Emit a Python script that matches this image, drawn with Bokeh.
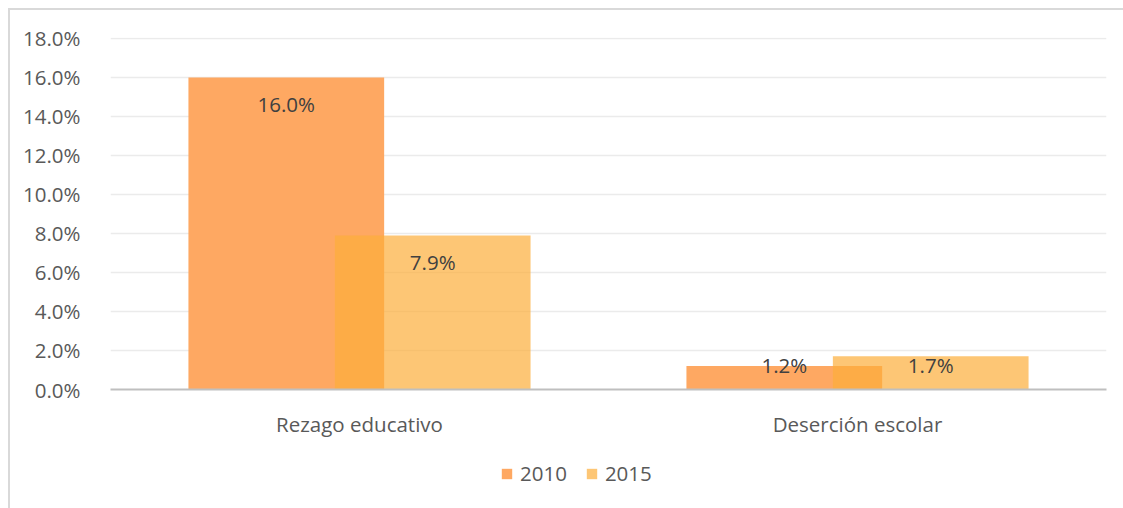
from bokeh.plotting import figure
from bokeh.layouts import column
from bokeh.models import (FactorRange, ColumnDataSource, FixedTicker,
                          PrintfTickFormatter, Legend, LegendItem, Range1d)
from bokeh.transform import dodge
from bokeh.core.properties import value
from bokeh.embed import file_html
from bokeh.resources import INLINE

# ---- data ----
categories = ["Rezago educativo", "Deserción escolar"]
series_names = ["2010", "2015"]
values_2010 = [16.0, 1.2]
values_2015 = [7.9, 1.7]
y_ticks = [0, 2, 4, 6, 8, 10, 12, 14, 16, 18]

FONT = "Open Sans"
FS = "20.5px"
C2010 = "#FEA862"
C2015 = "#FCAE3B"
A2015 = 0.7

p = figure(x_range=FactorRange(*categories, range_padding=0),
           y_range=Range1d(0, 18.05),
           width=1113, height=445,
           output_backend="svg", toolbar_location=None,
           min_border_left=100, min_border_right=17,
           min_border_top=27, min_border_bottom=66)
p.outline_line_color = None
p.background_fill_color = "white"
p.border_fill_color = "white"

# grid / axes
p.xgrid.grid_line_color = None
p.ygrid.grid_line_color = "#ebebeb"
p.ygrid.grid_line_width = 1.5
p.yaxis.ticker = FixedTicker(ticks=y_ticks)
p.yaxis.formatter = PrintfTickFormatter(format="%.1f%%")
p.yaxis.axis_line_color = None
p.yaxis.major_tick_line_color = None
p.yaxis.minor_tick_line_color = None
p.yaxis.major_label_standoff = 24
p.yaxis.major_label_text_font = FONT
p.yaxis.major_label_text_font_size = FS
p.yaxis.major_label_text_color = "#595959"

p.xaxis.axis_line_color = "#bfbfbf"
p.xaxis.axis_line_width = 2
p.xaxis.major_tick_line_color = None
p.xaxis.minor_tick_line_color = None
p.xaxis.major_label_standoff = 14
p.xaxis.major_label_text_font = FONT
p.xaxis.major_label_text_font_size = FS
p.xaxis.major_label_text_color = "#595959"

BAR_W = 0.393
OFF = 0.147

src10 = ColumnDataSource(dict(cat=categories, v=values_2010))
src15 = ColumnDataSource(dict(cat=categories, v=values_2015))

p.vbar(x=dodge("cat", -OFF, range=p.x_range), top="v", width=BAR_W,
       source=src10, fill_color=C2010, line_color=None)
p.vbar(x=dodge("cat", OFF, range=p.x_range), top="v", width=BAR_W,
       source=src15, fill_color=C2015, fill_alpha=A2015, line_color=None)

def label_source(vals):
    ly, yo, txt = [], [], []
    for v in vals:
        txt.append(f"{v:.1f}%")
        if v >= 3:
            ly.append(v)
            yo.append(27)
        else:
            ly.append(0)
            yo.append(-24.5)
    return ly, yo, txt

for vals, off in ((values_2010, -OFF), (values_2015, OFF)):
    ly, yo, txt = label_source(vals)
    s = ColumnDataSource(dict(cat=categories, ly=ly, yo=yo, txt=txt))
    p.text(x=dodge("cat", off, range=p.x_range), y="ly", text="txt", y_offset="yo",
           source=s, text_align="center", text_baseline="middle",
           text_font=value(FONT), text_font_size=FS, text_color="#404040")

# ---- legend strip (separate figure so the legend is not clipped) ----
# shares the bar data; its y-range lies far above the values so the bars stay out of view
lg = figure(width=1113, height=53, x_range=p.x_range, y_range=Range1d(1000, 1001),
            output_backend="svg", toolbar_location=None,
            min_border_left=100, min_border_right=17, min_border_top=0, min_border_bottom=0)
lg.axis.visible = False
lg.grid.visible = False
lg.outline_line_color = None
lg.border_fill_color = "white"
lg.background_fill_color = "white"
l10 = lg.vbar(x=dodge("cat", -OFF, range=p.x_range), top="v", width=BAR_W,
              source=src10, fill_color=C2010, line_color=None)
l15 = lg.vbar(x=dodge("cat", OFF, range=p.x_range), top="v", width=BAR_W,
              source=src15, fill_color=C2015, fill_alpha=A2015, line_color=None)
legend = Legend(items=[LegendItem(label=series_names[0], renderers=[l10]),
                       LegendItem(label=series_names[1], renderers=[l15])],
                orientation="horizontal", location=(390, 21),
                glyph_width=13, glyph_height=13, label_standoff=7, spacing=18,
                padding=0, margin=0, border_line_color=None,
                background_fill_alpha=0,
                label_text_font=FONT, label_text_font_size=FS,
                label_text_color="#595959")
lg.add_layout(legend, "center")

layout = column(p, lg, spacing=0)
layout.styles = {"border-left": "2px solid #d9d9d9", "border-top": "2px solid #d9d9d9",
                 "margin-left": "8px", "margin-top": "8px"}

open("out.html", "w").write(file_html(layout, INLINE))
